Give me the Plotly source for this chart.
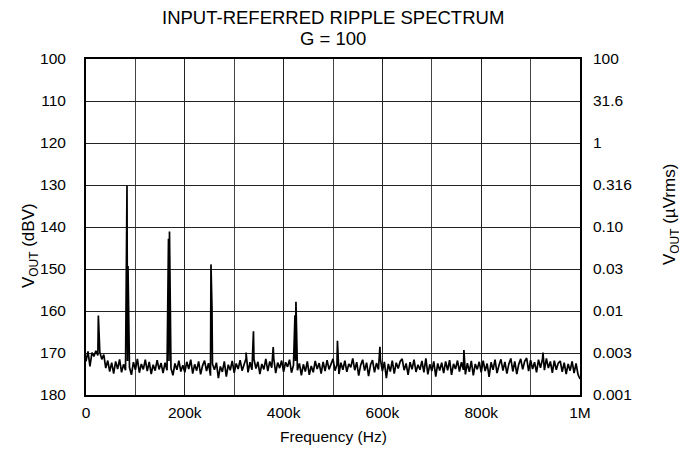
import numpy as np
import plotly.graph_objects as go

# Noise floor, one value per 4 kHz bin from 0 to 1000 kHz (dBV magnitude)
bin_step_khz = 4
noise_dbv = [
    172.0, 169.6, 173.2, 169.9, 170.8, 169.5, 170.6, 169.8, 171.5, 170.4,
    173.6, 171.8, 174.4, 172.3, 174.9, 172.0, 173.8, 171.5, 174.6, 172.7,
    174.1, 171.9, 173.4, 175.2, 172.2, 174.0, 171.4, 174.7, 172.6, 173.9,
    171.6, 174.3, 172.1, 175.0, 172.8, 174.2, 171.7, 173.9, 172.4, 174.8,
    172.3, 174.1, 171.9, 173.6, 175.3, 172.5, 174.0, 171.8, 174.4, 172.9,
    174.6, 172.1, 173.8, 171.6, 174.9, 172.7, 174.2, 172.0, 175.1, 173.0,
    171.8, 174.3, 172.4, 175.4, 172.6, 174.0, 172.3, 176.0, 173.2, 174.5,
    172.0, 175.6, 172.8, 174.1, 171.9, 174.7, 172.5, 173.8, 171.7, 174.2,
    172.4, 171.3, 174.6, 172.2, 174.0, 171.5, 173.7, 172.1, 175.0, 172.6,
    173.9, 171.4, 174.3, 172.0, 173.5, 171.2, 174.8, 172.3, 173.6, 171.8,
    174.5, 172.2, 173.3, 171.6, 174.7, 172.9, 171.9, 174.1, 172.5, 175.3,
    172.7, 174.4, 172.0, 175.2, 173.1, 174.6, 171.9, 173.8, 172.4, 174.9,
    172.1, 174.3, 171.7, 173.9, 172.5, 171.4, 174.2, 172.8, 175.0, 172.3,
    174.0, 171.8, 174.5, 172.6, 173.4, 171.3, 174.1, 172.2, 175.4, 172.9,
    171.6, 174.2, 172.3, 175.5, 172.8, 171.7, 174.6, 172.4, 173.9, 171.5,
    174.3, 172.1, 176.0, 172.6, 174.4, 171.8, 174.9, 172.3, 173.7, 172.0,
    171.4, 174.1, 172.5, 175.2, 172.2, 173.9, 171.6, 174.5, 172.8, 174.0,
    171.9, 174.6, 171.3, 175.1, 172.7, 174.3, 172.0, 175.6, 172.5, 174.2,
    172.3, 174.8, 172.0, 174.1, 171.7, 175.2, 172.6, 173.8, 171.8, 174.4,
    172.2, 174.0, 175.1, 172.4, 174.5, 171.9, 175.3, 172.6, 173.9, 172.1,
    174.6, 171.8, 174.3, 172.5, 175.7, 172.2, 174.0, 171.6, 174.8, 172.9,
    171.5, 174.2, 172.1, 174.9, 172.6, 171.3, 174.4, 172.0, 175.0, 172.7,
    171.4, 173.9, 172.0, 171.2, 174.3, 171.7, 173.8, 172.2, 174.6, 171.6,
    173.5, 171.5, 174.1, 171.3, 173.6, 172.0, 174.7, 171.8, 174.0, 172.4,
    171.9, 174.5, 172.3, 175.0, 172.6, 174.2, 172.0, 174.8, 172.5, 175.1,
    176.2,
]

# Ripple spurs (frequency in kHz, level in dBV magnitude)
spur_khz = [25, 83, 85, 167, 169, 253, 255, 324, 339, 379, 423, 425, 509, 595, 765, 925]
spur_dbv = [161.1, 130.2, 149.3, 142.8, 141.1, 148.9, 159.2, 169.9, 164.8, 168.6,
            161.0, 157.8, 167.1, 168.5, 169.3, 169.9]

left_ticks = [100, 110, 120, 130, 140, 150, 160, 170, 180]
right_ticktext = ["100", "31.6", "1", "0.316", "0.10", "0.03", "0.01", "0.003", "0.001"]
x_tickvals_hz = [0, 200e3, 400e3, 600e3, 800e3, 1e6]
x_ticktext = ["0", "200k", "400k", "600k", "800k", "1M"]

noise_khz = np.arange(len(noise_dbv)) * bin_step_khz
f_khz = np.concatenate([noise_khz, np.array(spur_khz, dtype=float)])
lvl = np.concatenate([np.array(noise_dbv), np.array(spur_dbv)])
order = np.argsort(f_khz, kind="stable")
f_hz = f_khz[order] * 1e3
lvl = lvl[order]

FONT = "Liberation Sans, Arial, sans-serif"
TICK = 15.5

fig = go.Figure()
fig.add_trace(go.Scatter(x=f_hz, y=lvl, mode="lines",
                         line=dict(color="black", width=1.7), showlegend=False,
                         hoverinfo="skip"))
fig.add_trace(go.Scatter(x=[None], y=[None], yaxis="y2", showlegend=False))

# The page places the figure 8 px in from the top-left corner of the window.
fig.update_layout(
    width=679, height=455,
    margin=dict(l=78, r=107, t=51, b=68),
    paper_bgcolor="white", plot_bgcolor="white",
    font=dict(family=FONT, size=TICK, color="black"),
    xaxis=dict(range=[0, 1e6], tickvals=x_tickvals_hz, ticktext=x_ticktext,
               showgrid=True, gridcolor="#222", gridwidth=1,
               minor=dict(dtick=100e3, showgrid=True, gridcolor="#444", gridwidth=1),
               showline=True, linecolor="black", linewidth=2, mirror=True,
               ticks="", zeroline=False, ticklabelstandoff=2, automargin=False,
               tickfont=dict(size=TICK)),
    yaxis=dict(range=[180, 100], tickvals=left_ticks,
               showgrid=True, gridcolor="#222", gridwidth=1,
               showline=True, linecolor="black", linewidth=2, mirror=True,
               ticks="", zeroline=False, ticklabelstandoff=15, automargin=False,
               tickfont=dict(size=TICK)),
    yaxis2=dict(range=[180, 100], overlaying="y", side="right",
                tickvals=left_ticks, ticktext=right_ticktext,
                showgrid=False, showline=False, zeroline=False, ticks="",
                ticklabelstandoff=12, automargin=False, tickfont=dict(size=TICK)),
    annotations=[
        dict(text="INPUT-REFERRED RIPPLE SPECTRUM", xref="paper", yref="paper",
             x=0.5, y=(395 - 17) / 336, showarrow=False, yanchor="middle",
             font=dict(size=18.5)),
        dict(text="G = 100", xref="paper", yref="paper",
             x=0.5, y=(395 - 38) / 336, showarrow=False, yanchor="middle",
             font=dict(size=18.5)),
        dict(text="V<sub>OUT</sub> (dBV)", xref="paper", yref="paper",
             x=(30 - 86) / 494, y=(395 - 246) / 336, showarrow=False,
             textangle=-90, xanchor="center", yanchor="middle", font=dict(size=17)),
        dict(text="V<sub>OUT</sub> (\u00b5Vrms)", xref="paper", yref="paper",
             x=(671 - 86) / 494, y=(395 - 215) / 336, showarrow=False,
             textangle=-90, xanchor="center", yanchor="middle", font=dict(size=17)),
        dict(text="Frequency (Hz)", xref="paper", yref="paper",
             x=0.5, y=(395 - 436) / 336, showarrow=False, yanchor="middle",
             font=dict(size=15.5)),
    ],
)

fig.write_html("out.html")
